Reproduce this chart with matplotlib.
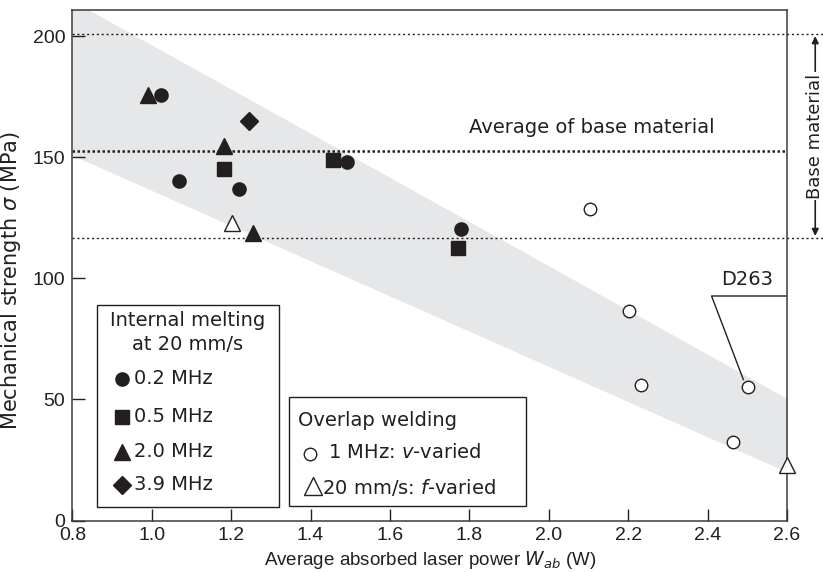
import matplotlib
matplotlib.use('Agg')
import matplotlib.pyplot as plt
from matplotlib.patches import Rectangle

plt.rcParams['font.family'] = ['Liberation Sans', 'DejaVu Sans']
plt.rcParams['mathtext.fontset'] = 'custom'
plt.rcParams['mathtext.it'] = 'DejaVu Sans:italic'
plt.rcParams['mathtext.rm'] = 'DejaVu Sans'

INK = '#231f20'
BAND = '#e6e7e8'
WIDE = ['DejaVu Sans']   # looser face for the in-plot notes and keys
NOTE = 14

# internal melting at 20 mm/s, by repetition rate
im_02_x = [1.024, 1.069, 1.220, 1.491, 1.779]
im_02_y = [175.8, 140.3, 137.0, 147.9, 120.3]
im_05_x = [1.183, 1.457, 1.772]
im_05_y = [145.2, 149.0, 112.5]
im_20_x = [0.991, 1.183, 1.256]
im_20_y = [175.5, 154.5, 118.7]
im_39_x = [1.245]
im_39_y = [164.8]

# overlap welding
ov_v_x = [2.104, 2.203, 2.231, 2.503, 2.465]
ov_v_y = [128.6, 86.3, 56.0, 55.3, 32.3]
ov_f_x = [1.203, 2.599]
ov_f_y = [122.8, 22.9]

# base material levels
base_max = 201
base_avg = 152.6
base_min = 116.5

# trend band (edges at the two ends of the x range)
band_x = [0.8, 2.6]
band_upper = [214.6, 50.4]
band_lower = [150.8, 20.0]

fig = plt.figure(figsize=(8.23, 5.72), dpi=100)
ax = fig.add_axes([72.4 / 823, 1 - 520.5 / 572, (787 - 72.4) / 823, (520.5 - 9.5) / 572])

ax.fill_between(band_x, band_lower, band_upper, color=BAND, lw=0, zorder=0)

ax.axhline(base_max, xmin=0, xmax=1.05, color=INK, ls=(0, (1.5, 2)), lw=1.0, clip_on=False, zorder=1)
ax.axhline(base_avg, xmin=0, xmax=1.0, color=INK, ls=(0, (1, 1)), lw=1.8, zorder=1)
ax.axhline(base_min, xmin=0, xmax=1.05, color=INK, ls=(0, (1.5, 2)), lw=1.0, clip_on=False, zorder=1)
ax.text(2.108, 162.2, 'Average of base material', ha='center', va='center',
        fontsize=NOTE, family=WIDE, color=INK)

filled = dict(ls='none', color=INK, zorder=3, clip_on=False)
hollow = dict(ls='none', mfc='white', mec=INK, mew=1.0, zorder=3, clip_on=False)
ax.plot(im_02_x, im_02_y, marker='o', ms=9.5, **filled)
ax.plot(im_05_x, im_05_y, marker='s', ms=10.5, **filled)
ax.plot(im_20_x, im_20_y, marker='^', ms=12, **filled)
ax.plot(im_39_x, im_39_y, marker='D', ms=9, **filled)
ax.plot(ov_v_x, ov_v_y, marker='o', ms=9, **hollow)
ax.plot(ov_f_x, ov_f_y, marker='^', ms=12, **hollow)

# D263 callout
ax.plot([2.6, 2.41, 2.49], [92.7, 92.7, 58.2], color=INK, lw=1.0, zorder=2)
ax.text(2.50, 95.5, 'D263', ha='center', va='bottom', fontsize=NOTE, family=WIDE, color=INK)

# base material range arrow, right of the frame
ax.annotate('', xy=(1.0395, base_max - 1), xycoords=('axes fraction', 'data'),
            xytext=(1.0395, base_min + 1), textcoords=('axes fraction', 'data'),
            arrowprops=dict(arrowstyle='<|-|>', color=INK, lw=1.2, mutation_scale=10,
                            shrinkA=0, shrinkB=0), annotation_clip=False)
ax.text(1.0395, (base_max + base_min) / 2, 'Base material', rotation=90,
        ha='center', va='center', fontsize=13, family=WIDE, color=INK,
        transform=ax.get_yaxis_transform(), clip_on=False,
        bbox=dict(facecolor='white', edgecolor='none', pad=1.0))

ax.set_xlim(0.8, 2.6)
ax.set_ylim(0, 211)
ax.set_xticks([0.8, 1.0, 1.2, 1.4, 1.6, 1.8, 2.0, 2.2, 2.4, 2.6])
ax.set_yticks([0, 50, 100, 150, 200])
ax.set_xticklabels(['0.8', '1.0', '1.2', '1.4', '1.6', '1.8', '2.0', '2.2', '2.4', '2.6'])
ax.tick_params(direction='in', length=9, width=1.0, color=INK, labelsize=14,
               labelcolor=INK)
ax.tick_params(axis='x', pad=5)
ax.tick_params(axis='y', pad=5)
for s in ax.spines.values():
    s.set_color('#3a3a3a')
    s.set_linewidth(1.1)

ax.set_xlabel('Average absorbed laser power $W_{ab}$ (W)', fontsize=13.5, color=INK, labelpad=3)
ax.set_ylabel(r'Mechanical strength $\sigma$ (MPa)', fontsize=15, family=WIDE,
              color=INK)
ax.yaxis.set_label_coords(-0.069, 0.47)


def fp(px, py):
    # pixel position -> figure fraction
    return px / 823, 1 - py / 572


def key_text(px, py, s, **kw):
    fig.text(*fp(px, py), s, va='center', fontsize=NOTE, family=WIDE, color=INK, zorder=6, **kw)


def key_mark(px, py, **kw):
    x, y = fp(px, py)
    fig.lines.append(plt.Line2D([x], [y], ls='none', transform=fig.transFigure, zorder=6, **kw))


def key_box(left, top, right, bottom):
    x0, y0 = fp(left, bottom)
    x1, y1 = fp(right, top)
    fig.patches.append(Rectangle((x0, y0), x1 - x0, y1 - y0, transform=fig.transFigure,
                                 facecolor='white', edgecolor=INK, lw=1.0, zorder=5))


# key box: internal melting
key_box(97, 305, 279, 507)
key_text(188, 321, 'Internal melting', ha='center')
key_text(188, 345, 'at 20 mm/s', ha='center')
key_rows = [('o', 9.5, '0.2 MHz', 379), ('s', 10.5, '0.5 MHz', 416.5),
            ('^', 12, '2.0 MHz', 451.5), ('D', 9, '3.9 MHz', 485)]
for m, ms, lab, py in key_rows:
    key_mark(122, py, marker=m, ms=ms, color=INK)
    key_text(134, py, lab, ha='left')

# key box: overlap welding
key_box(289, 397, 526, 506)
key_text(298, 420, 'Overlap welding', ha='left')
key_mark(310, 454, marker='o', ms=9, mfc='white', mec=INK, mew=1.0)
key_text(328, 452, '1 MHz: $v$-varied', ha='left')
key_mark(313, 486, marker='^', ms=13, mfc='white', mec=INK, mew=1.0)
key_text(322, 487, '20 mm/s: $f$-varied', ha='left')

fig.savefig('out.png', dpi=100)
